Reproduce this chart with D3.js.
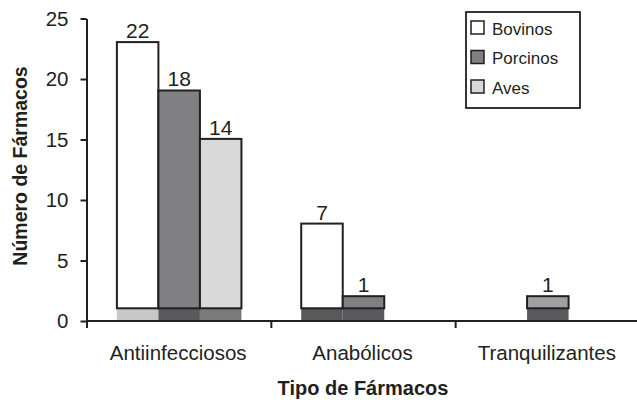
<!DOCTYPE html>
<html>
<head>
<meta charset="utf-8">
<script src="https://cdn.jsdelivr.net/npm/d3@7"></script>
<style>
  body { margin: 0; background: #fff; }
  text { font-family: "Liberation Sans", Arial, sans-serif; fill: #231f20; }
</style>
</head>
<body>
<svg id="chart"></svg>
<script>
const categories = ["Antiinfecciosos", "Anabólicos", "Tranquilizantes"];
const seriesNames = ["Bovinos", "Porcinos", "Aves"];
const bovinos = [22, 7, 0];
const porcinos = [18, 1, 1];
const aves = [14, 0, 0];
const yTicks = [0, 5, 10, 15, 20, 25];

const seriesFill = { Bovinos: "#ffffff", Porcinos: "#808083", Aves: "#d9d9da" };
const floorFill = { Bovinos: "#c8c8c9", Porcinos: "#59595b", Aves: "#7a7a7c" };
const darkFloor = "#59595b";
const ink = "#231f20";

const width = 637, height = 403;
const svg = d3.select("#chart").attr("width", width).attr("height", height);

const values = { Bovinos: bovinos, Porcinos: porcinos, Aves: aves };
const rows = [];
categories.forEach((c, i) => {
  seriesNames.forEach(s => rows.push({ cat: c, ci: i, series: s, value: values[s][i] }));
});

const x0 = d3.scaleBand().domain(categories).range([87, 640]);
const x1 = d3.scaleBand().domain(seriesNames).range([0, x0.bandwidth()]).paddingOuter(0.72);
const y = d3.scaleLinear().domain([0, 25]).range([321, 18.5]);
const floorDepth = 1.05; // 3D floor under the columns

const bars = rows.filter(d => d.value > 0);

// floor strips
svg.append("g").selectAll("rect")
  .data(bars)
  .join("rect")
    .attr("x", d => x0(d.cat) + x1(d.series))
    .attr("y", y(floorDepth))
    .attr("width", x1.bandwidth())
    .attr("height", y(0) - y(floorDepth))
    .attr("fill", d => d.ci === 0 ? floorFill[d.series] : darkFloor);

// columns
svg.append("g").selectAll("rect")
  .data(bars)
  .join("rect")
    .attr("x", d => x0(d.cat) + x1(d.series))
    .attr("y", d => y(d.value + floorDepth))
    .attr("width", x1.bandwidth())
    .attr("height", d => y(floorDepth) - y(d.value + floorDepth))
    .attr("fill", d => d.ci === 2 ? "#a0a0a2" : seriesFill[d.series])
    .attr("stroke", ink)
    .attr("stroke-width", 2);

// value labels
svg.append("g").selectAll("text")
  .data(bars)
  .join("text")
    .attr("x", d => x0(d.cat) + x1(d.series) + x1.bandwidth() / 2)
    .attr("y", d => y(d.value + floorDepth) - 4)
    .attr("text-anchor", "middle")
    .style("font-size", "21px")
    .text(d => d.value);

// y axis
const yAxisG = svg.append("g")
  .attr("transform", "translate(86.5,0)")
  .call(d3.axisLeft(y).tickValues(yTicks).tickSize(6).tickSizeOuter(0).tickPadding(12));
yAxisG.select(".domain").attr("stroke", ink).attr("stroke-width", 2);
yAxisG.selectAll(".tick line").attr("stroke", ink).attr("stroke-width", 2);
yAxisG.selectAll(".tick text")
  .attr("fill", ink)
  .style("font-size", "20.5px")
  .style("font-family", "Liberation Sans, Arial, sans-serif");

// x axis
const xAxisG = svg.append("g").attr("transform", `translate(0,${y(0)})`);
xAxisG.append("line")
  .attr("x1", 86).attr("x2", width)
  .attr("stroke", ink).attr("stroke-width", 2.2);
xAxisG.selectAll(".bound")
  .data(categories)
  .join("line")
    .attr("class", "bound")
    .attr("x1", d => x0(d)).attr("x2", d => x0(d))
    .attr("y1", 0).attr("y2", 7)
    .attr("stroke", ink).attr("stroke-width", 2);
xAxisG.selectAll(".cat")
  .data(categories)
  .join("text")
    .attr("class", "cat")
    .attr("x", d => x0(d) + x0.bandwidth() / 2 - 1)
    .attr("y", 39)
    .attr("text-anchor", "middle")
    .style("font-size", "20.5px")
    .text(d => d);

// axis titles
svg.append("text")
  .attr("x", 363)
  .attr("y", 395)
  .attr("text-anchor", "middle")
  .style("font-size", "20px")
  .style("font-weight", "bold")
  .text("Tipo de Fármacos");

svg.append("text")
  .attr("transform", "translate(27,166) rotate(-90)")
  .attr("text-anchor", "middle")
  .style("font-size", "19.5px")
  .style("font-weight", "bold")
  .text("Número de Fármacos");

// legend
const legend = svg.append("g").attr("transform", "translate(466,12)");
legend.append("rect")
  .attr("width", 114).attr("height", 96)
  .attr("fill", "#fff")
  .attr("stroke", ink).attr("stroke-width", 1.8);
const item = legend.selectAll(".item")
  .data(seriesNames)
  .join("g")
    .attr("class", "item")
    .attr("transform", (d, i) => `translate(5,${9 + i * 29.5})`);
item.append("rect")
  .attr("width", 13).attr("height", 13)
  .attr("fill", d => seriesFill[d])
  .attr("stroke", ink).attr("stroke-width", 1.5);
item.append("text")
  .attr("x", 21)
  .attr("y", 13.5)
  .style("font-size", "17px")
  .text(d => d);
</script>
</body>
</html>
